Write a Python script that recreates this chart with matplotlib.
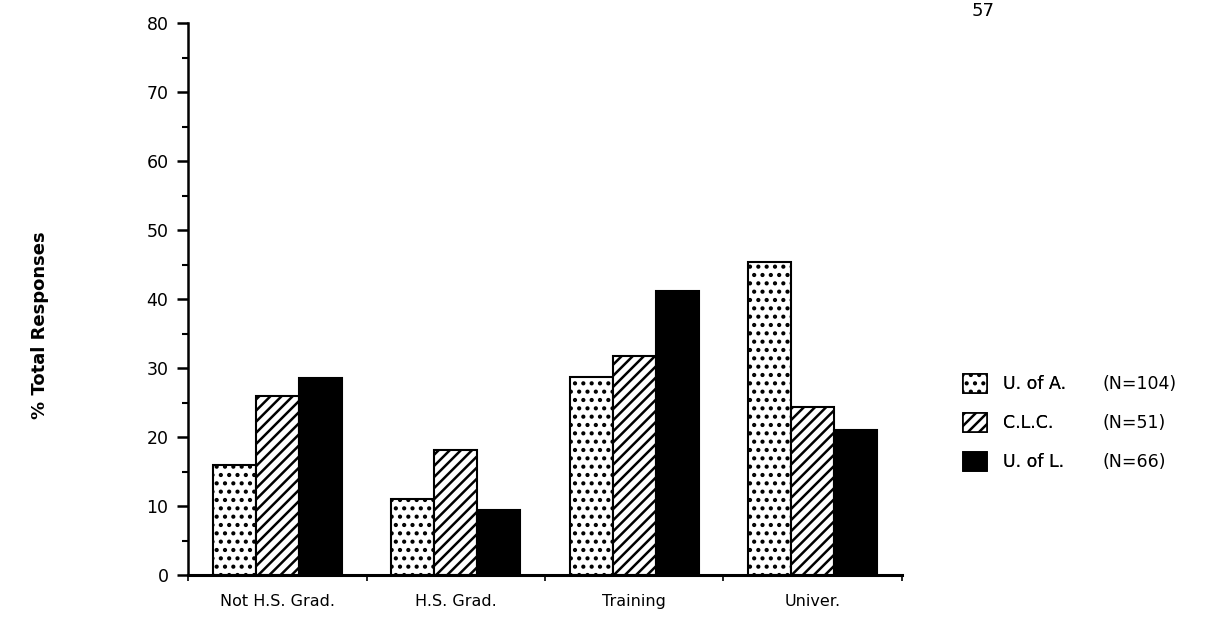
import matplotlib
matplotlib.use("Agg")
import matplotlib.pyplot as plt
import numpy as np
from matplotlib.patches import Patch

categories = ["Not H.S. Grad.", "H.S. Grad.", "Training", "Univer."]
series_names = ["U. of A.", "C.L.C.", "U. of L."]
series_n = ["(N=104)", "(N=51)", "(N=66)"]
u_of_a = [16.0, 11.0, 28.7, 45.3]
clc = [25.9, 18.1, 31.7, 24.3]
u_of_l = [28.5, 9.4, 41.2, 21.0]
y_ticks = [0, 10, 20, 30, 40, 50, 60, 70, 80]

plt.rcParams["hatch.linewidth"] = 1.8
plt.rcParams["font.family"] = "DejaVu Sans"

W, H = 1217, 632
fig = plt.figure(figsize=(W / 100, H / 100), dpi=100)
ax = fig.add_axes([188 / W, 1 - 575 / H, (902 - 188) / W, (575 - 23) / H])

x = np.arange(len(categories)) + 0.5
bw = 0.24
styles = [
    dict(facecolor="white", hatch="..", edgecolor="black"),
    dict(facecolor="white", hatch="///", edgecolor="black"),
    dict(facecolor="black", hatch=None, edgecolor="black"),
]
series = [u_of_a, clc, u_of_l]
for i, (vals, st) in enumerate(zip(series, styles)):
    ax.bar(x + (i - 1) * bw, vals, width=bw, linewidth=1.5, **st)

ax.set_xlim(0, len(categories))
ax.set_ylim(0, 80)
for s in ["top", "right"]:
    ax.spines[s].set_visible(False)
ax.spines["left"].set_linewidth(1.8)
ax.spines["bottom"].set_linewidth(2.2)

ax.set_yticks(y_ticks)
ax.set_yticklabels([str(v) for v in y_ticks], fontsize=12.5)
ax.set_yticks(np.arange(5, 80, 10), minor=True)
ax.tick_params(axis="y", which="major", length=8, width=1.8, direction="out", pad=6)
ax.tick_params(axis="y", which="minor", length=4, width=1.5, direction="out")

ax.set_xticks(np.arange(len(categories) + 1))
ax.set_xticklabels([])
ax.set_xticks(x, minor=True)
ax.set_xticklabels(categories, minor=True, fontsize=11.5)
ax.tick_params(axis="x", which="major", length=4, width=1.2, direction="out")
ax.tick_params(axis="x", which="minor", length=0, pad=14)

fig.text(40 / W, 1 - 325 / H, "% Total Responses", rotation=90, ha="center",
         va="center", fontsize=13, fontweight="bold")
fig.text(983 / W, 1 - 11 / H, "57", ha="center", va="center", fontsize=13)

handles = [Patch(linewidth=1.2, **st) for st in styles]
leg1 = fig.legend(handles, series_names, loc="upper left",
                  bbox_to_anchor=(947 / W, 1 - 358 / H), frameon=False,
                  fontsize=12.5, handlelength=1.4, handleheight=1.3,
                  labelspacing=1.15, handletextpad=0.9)
blank = [Patch(facecolor="none", edgecolor="none") for _ in series_n]
leg2 = fig.legend(blank, series_n, loc="upper left",
                  bbox_to_anchor=(1087 / W, 1 - 358 / H), frameon=False,
                  fontsize=12.5, handlelength=0, handleheight=1.3,
                  labelspacing=1.15, handletextpad=0)
fig.add_artist(leg1)

fig.savefig("out.png", dpi=100)
